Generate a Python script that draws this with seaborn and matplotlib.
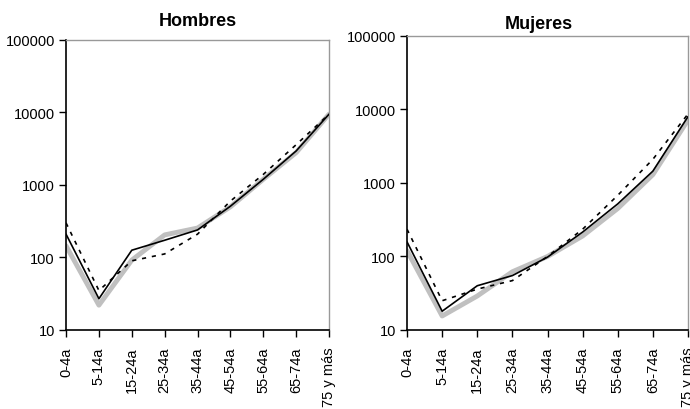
import pandas as pd
import matplotlib
matplotlib.use('Agg')
import matplotlib.pyplot as plt
import matplotlib.ticker as mticker
import seaborn as sns

# age groups on the x axis
grupos = ['0-4a', '5-14a', '15-24a', '25-34a', '35-44a',
          '45-54a', '55-64a', '65-74a', '75 y más']

# Hombres: three series (solid black, thick gray, dotted black)
hom_negro = [210, 27, 126, 173, 240, 510, 1200, 2950, 9500]
hom_gris = [145, 22, 92, 205, 255, 500, 1200, 2800, 9500]
hom_punteado = [300, 35, 90, 112, 210, 600, 1400, 3600, 9500]

# Mujeres
muj_negro = [158, 18, 40, 55, 98, 215, 520, 1450, 8000]
muj_gris = [120, 15.5, 29, 62, 100, 190, 450, 1300, 7200]
muj_punteado = [235, 25, 36, 47, 100, 235, 680, 2100, 8700]

sns.set_style('white')
plt.rcParams['font.family'] = ['Liberation Sans', 'DejaVu Sans']
plt.rcParams['text.color'] = 'black'
plt.rcParams['xtick.color'] = 'black'
plt.rcParams['ytick.color'] = 'black'

fig = plt.figure(figsize=(6.9, 4.1), dpi=100)
ax1 = fig.add_axes([0.0957, 0.1927, 0.3812, 0.7073])
ax2 = fig.add_axes([0.5899, 0.1927, 0.4072, 0.7171])


def panel(ax, titulo, negro, gris, punteado, pad, tx):
    df = pd.DataFrame({'pos': range(len(grupos)), 'negro': negro,
                       'gris': gris, 'punteado': punteado})
    sns.lineplot(data=df, x='pos', y='gris', ax=ax, color='#c0c0c0',
                 linewidth=3.5, zorder=2)
    sns.lineplot(data=df, x='pos', y='punteado', ax=ax, color='black',
                 linewidth=1.2, linestyle=(0, (2.5, 3.5)), zorder=3)
    sns.lineplot(data=df, x='pos', y='negro', ax=ax, color='black',
                 linewidth=1.2, zorder=4)
    ax.set_yscale('log')
    ax.set_ylim(10, 100000)
    ax.set_xlim(0, len(grupos) - 1)
    ax.set_yticks([10, 100, 1000, 10000, 100000])
    ax.yaxis.set_major_formatter(mticker.FuncFormatter(lambda v, p: '%d' % v))
    ax.yaxis.set_minor_locator(mticker.NullLocator())
    ax.set_xticks(range(len(grupos)))
    ax.set_xticklabels(grupos, rotation=90)
    ax.tick_params(axis='both', direction='out', length=5, width=1,
                   color='black', labelcolor='black', labelsize=10.5,
                   bottom=True, left=True)
    ax.tick_params(axis='x', pad=7)
    ax.tick_params(axis='y', pad=3)
    ax.set_xlabel('')
    ax.set_ylabel('')
    for s in ['left', 'bottom']:
        ax.spines[s].set_color('black')
        ax.spines[s].set_linewidth(1.2)
    for s in ['top', 'right']:
        ax.spines[s].set_color('#999999')
        ax.spines[s].set_linewidth(1.0)
    ax.set_title(titulo, fontsize=13, fontweight='bold', pad=pad,
                 color='black', x=tx)


panel(ax1, 'Hombres', hom_negro, hom_gris, hom_punteado, 11, 0.5)
panel(ax2, 'Mujeres', muj_negro, muj_gris, muj_punteado, 6, 0.47)

fig.savefig('out.png', dpi=100)
